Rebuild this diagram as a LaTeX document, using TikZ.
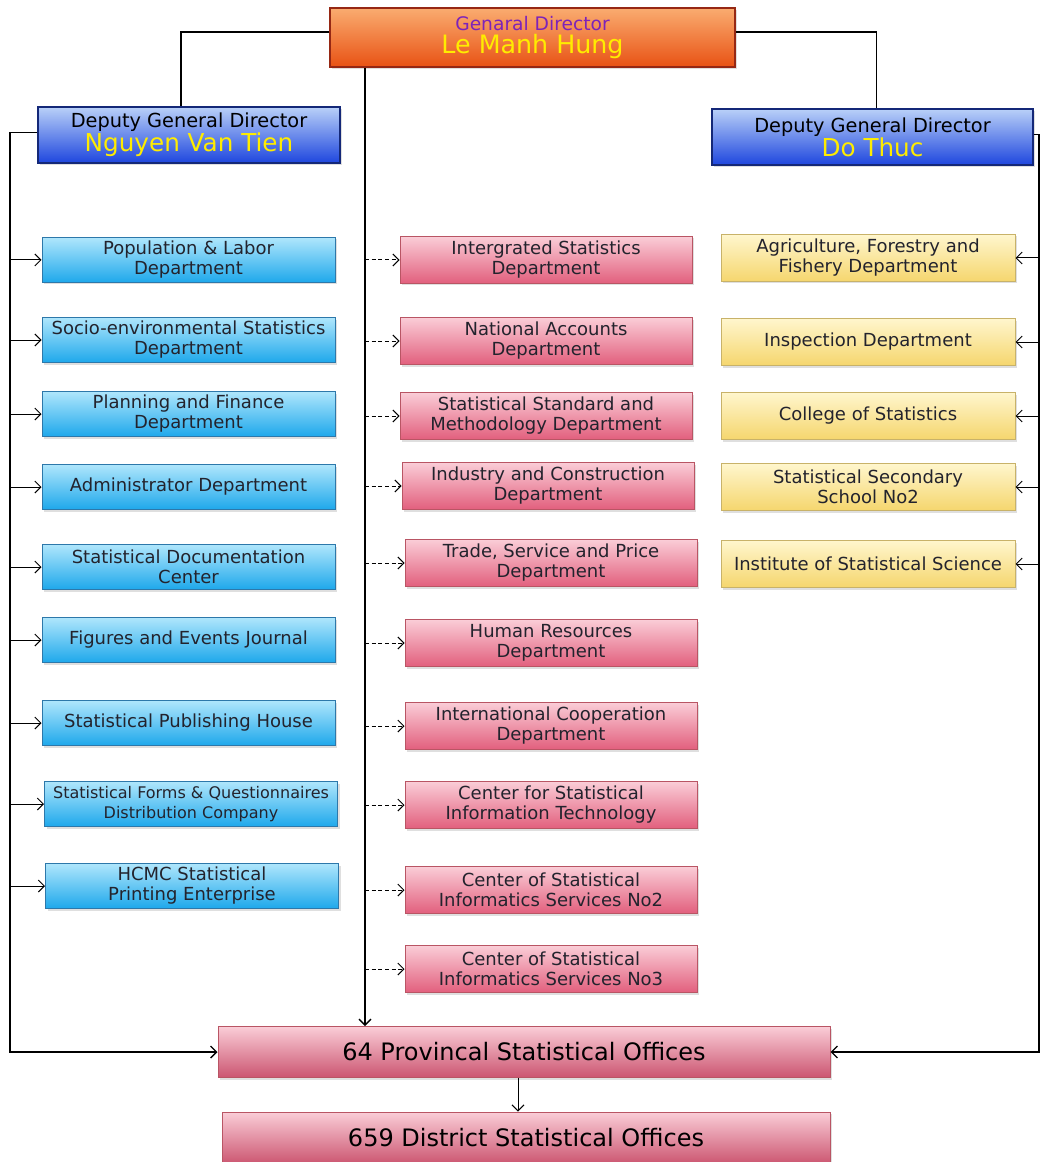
\documentclass[tikz,border=0pt]{standalone}
\usepackage{fontspec}
\setmainfont{DejaVu Sans}
\usetikzlibrary{arrows.meta,shadows}

\definecolor{deptext}{RGB}{35,35,45}
\definecolor{bluetop}{RGB}{175,230,252}
\definecolor{bluebot}{RGB}{30,168,235}
\definecolor{blueline}{RGB}{45,120,170}
\definecolor{pinktop}{RGB}{250,205,215}
\definecolor{pinkbot}{RGB}{226,95,125}
\definecolor{pinkline}{RGB}{185,85,100}
\definecolor{yeltop}{RGB}{255,246,205}
\definecolor{yelbot}{RGB}{245,214,110}
\definecolor{yelline}{RGB}{200,178,105}
\definecolor{deptop}{RGB}{185,208,248}
\definecolor{depbot}{RGB}{30,70,222}
\definecolor{depline}{RGB}{20,40,120}
\definecolor{gdtop}{RGB}{250,172,112}
\definecolor{gdbot}{RGB}{232,82,20}
\definecolor{gdline}{RGB}{150,40,20}
\definecolor{gdpurple}{RGB}{125,35,185}
\definecolor{nameyel}{RGB}{255,236,0}

\tikzset{every picture/.style={line width=0.75pt}}
\tikzset{
  box/.style={draw, rectangle, align=center, inner sep=1pt, text=deptext,
    drop shadow={opacity=0.25, shadow xshift=1.5pt, shadow yshift=-1.5pt}},
  bluebox/.style={box, draw=blueline, top color=bluetop, bottom color=bluebot,
    minimum width=219.75pt, minimum height=33.75pt, font=\fontsize{13.5}{15}\selectfont},
  pinkbox/.style={box, draw=pinkline, top color=pinktop, bottom color=pinkbot,
    minimum width=219pt, minimum height=35.25pt, font=\fontsize{13.5}{15}\selectfont},
  yelbox/.style={box, draw=yelline, top color=yeltop, bottom color=yelbot,
    minimum width=220.5pt, minimum height=35.25pt, font=\fontsize{13.5}{15}\selectfont},
  depbox/.style={box, draw=depline, line width=1.2pt, top color=deptop, bottom color=depbot,
    minimum height=42pt, text=black},
  officebox/.style={box, draw=pinkline, top color=pinktop, bottom color=pinkbot!90!black,
    minimum height=38.25pt, text=black, font=\fontsize{18}{20}\selectfont},
  arr/.style={-{Straight Barb[length=4.5pt,width=9pt]}, black},
  spine/.style={black, line width=1pt},
}

\begin{document}
\begin{tikzpicture}[x=0.75pt,y=0.75pt,yscale=-1]
	\useasboundingbox (0,0) rectangle (1041,1162);

	% Directors
	\node[box, draw=gdline, line width=1.2pt, top color=gdtop, bottom color=gdbot,
	  minimum width=303.75pt, minimum height=44.25pt] (gd) at (532.5,37.5)
	  {{\color{gdpurple}\fontsize{14}{16}\selectfont Genaral Director}\\[1pt]{\color{nameyel}\fontsize{19}{20}\selectfont Le Manh Hung}};
	\node[depbox, minimum width=226.5pt] (dgl) at (189,135)
	  {{\fontsize{14.5}{16}\selectfont Deputy General Director}\\[0pt]{\color{nameyel}\fontsize{18.5}{19}\selectfont Nguyen Van Tien}};
	\node[depbox, minimum width=240.75pt] (dgr) at (872.5,137)
	  {{\fontsize{14.5}{16}\selectfont Deputy General Director}\\[0pt]{\color{nameyel}\fontsize{18.5}{19}\selectfont Do Thuc}};

	% Left column
	\node[bluebox] (b1) at (188.5,260) {Population \& Labor\\Department};
	\node[bluebox] (b2) at (188.5,340) {Socio-environmental Statistics\\Department};
	\node[bluebox] (b3) at (188.5,414) {Planning and Finance\\Department};
	\node[bluebox] (b4) at (188.5,487) {Administrator Department};
	\node[bluebox] (b5) at (188.5,567) {Statistical Documentation\\Center};
	\node[bluebox] (b6) at (188.5,640) {Figures and Events Journal};
	\node[bluebox] (b7) at (188.5,723) {Statistical Publishing House};
	\node[bluebox, font=\fontsize{12}{14.5}\selectfont] (b8) at (191,804) {Statistical Forms \& Questionnaires\\Distribution Company};
	\node[bluebox] (b9) at (192,886) {HCMC Statistical\\Printing Enterprise};

	% Middle column
	\node[pinkbox] (p1) at (546,260) {Intergrated Statistics\\Department};
	\node[pinkbox] (p2) at (546,341) {National Accounts\\Department};
	\node[pinkbox] (p3) at (546,416) {Statistical Standard and\\Methodology Department};
	\node[pinkbox] (p4) at (548,486) {Industry and Construction\\Department};
	\node[pinkbox] (p5) at (551,563) {Trade, Service and Price\\Department};
	\node[pinkbox] (p6) at (551,643) {Human Resources\\Department};
	\node[pinkbox] (p7) at (551,726) {International Cooperation\\Department};
	\node[pinkbox] (p8) at (551,805) {Center for Statistical\\Information Technology};
	\node[pinkbox] (p9) at (551,890) {Center of Statistical\\Informatics Services No2};
	\node[pinkbox] (p10) at (551,969) {Center of Statistical\\Informatics Services No3};

	% Right column
	\node[yelbox] (y1) at (868,258) {Agriculture, Forestry and\\Fishery Department};
	\node[yelbox] (y2) at (868,342) {Inspection Department};
	\node[yelbox] (y3) at (868,416) {College of Statistics};
	\node[yelbox] (y4) at (868,487) {Statistical Secondary\\School No2};
	\node[yelbox] (y5) at (868,564) {Institute of Statistical Science};

	% Offices
	\node[officebox, minimum width=459pt] (prov) at (524,1052) {64 Provincal Statistical Offices};
	\node[officebox, minimum width=456pt, minimum height=39pt] (dist) at (526,1138) {659 District Statistical Offices};

	% Spines
	\coordinate (spl) at (10,600);
	\coordinate (spm) at (365,600);
	\coordinate (spr) at (1039,600);

	% Connectors
	\draw[spine] ([yshift=-4pt]gd.west) -| ([xshift=-6pt]dgl.north);
	\draw[spine] ([yshift=-4pt]gd.east) -| ([xshift=3pt]dgr.north);
	\draw[spine, arr] (gd.south -| spm) -- (prov.north -| spm);
	\draw[spine, arr] ([yshift=-2pt]dgl.west) -| (spl) |- (prov.west);
	\draw[spine, arr] ([yshift=-2pt]dgr.east) -| (spr) |- (prov.east);
	\draw[arr] (prov.south -| 518,0) -- (dist.north -| 518,0);

	\foreach \n in {b1,b2,b3,b4,b5,b6,b7,b8,b9}
	  \draw[arr] (spl |- \n.west) -- (\n.west);
	\foreach \n in {p1,p2,p3,p4,p5,p6,p7,p8,p9,p10}
	  \draw[arr, densely dashed] (spm |- \n.west) -- (\n.west);
	\foreach \n in {y1,y2,y3,y4,y5}
	  \draw[arr] (spr |- \n.east) -- (\n.east);

\end{tikzpicture}
\end{document}
